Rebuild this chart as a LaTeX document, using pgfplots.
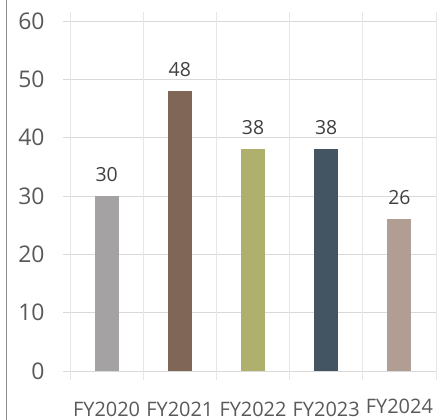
\documentclass[border=0pt]{standalone}
\usepackage{fontspec}
\setmainfont{Open Sans}
\usepackage{pgfplots}
\pgfplotsset{compat=1.18}

\definecolor{gridh}{HTML}{D9D9D9}
\definecolor{gridv}{HTML}{E6E6E6}
\definecolor{frame}{HTML}{8C8C8C}
\definecolor{ticktext}{HTML}{595959}
\definecolor{valtext}{HTML}{404040}
\definecolor{barA}{HTML}{A4A2A3}
\definecolor{barB}{HTML}{806656}
\definecolor{barC}{HTML}{AFAF6E}
\definecolor{barD}{HTML}{435462}
\definecolor{barE}{HTML}{B29D95}

\begin{document}
\begin{tikzpicture}
\path[use as bounding box] (0,0) rectangle (441bp,420bp);
\draw[color=frame, line width=1bp] (6bp,0) -- (6bp,420bp);
\begin{axis}[
  at={(63bp,49bp)}, anchor=south west,
  scale only axis, width=373bp, height=350bp,
  xmin=-0.596, xmax=4.5, ymin=0, ymax=60,
  ytick={0,10,...,60},
  xtick={0,...,4},
  xticklabels={FY2020,FY2021,FY2022,FY2023,\raisebox{2.5bp}{FY2024}},
  extra x ticks={-0.5,0.5,...,4.5},
  extra x tick labels={},
  extra x tick style={
    grid=major,
    major grid style={gridv, line width=0.75bp},
    major tick length=9bp, tick align=outside,
    tick style={draw=gridv, line width=0.75bp},
  },
  ymajorgrids,
  major grid style={gridh, line width=0.75bp},
  axis line style={draw=none},
  major tick length=0pt,
  /pgf/number format/assume math mode=true,
  yticklabel style={font=\fontsize{23}{27}\selectfont, text=ticktext, anchor=east, xshift=-15bp},
  xticklabel style={font=\fontsize{20}{24}\selectfont, text=ticktext, anchor=base, yshift=-45bp},
  nodes near coords,
  every node near coord/.append style={font=\fontsize{19.5}{23}\selectfont, text=valtext, anchor=base, yshift=15bp},
]
\addplot[ybar, bar width=24bp, bar shift=0pt, fill=barA, draw=none] coordinates {(0,30)};
\addplot[ybar, bar width=24bp, bar shift=0pt, fill=barB, draw=none] coordinates {(1,48)};
\addplot[ybar, bar width=24bp, bar shift=0pt, fill=barC, draw=none] coordinates {(2,38)};
\addplot[ybar, bar width=24bp, bar shift=0pt, fill=barD, draw=none] coordinates {(3,38)};
\addplot[ybar, bar width=24bp, bar shift=0pt, fill=barE, draw=none] coordinates {(4,26)};
\end{axis}
\end{tikzpicture}
\end{document}
